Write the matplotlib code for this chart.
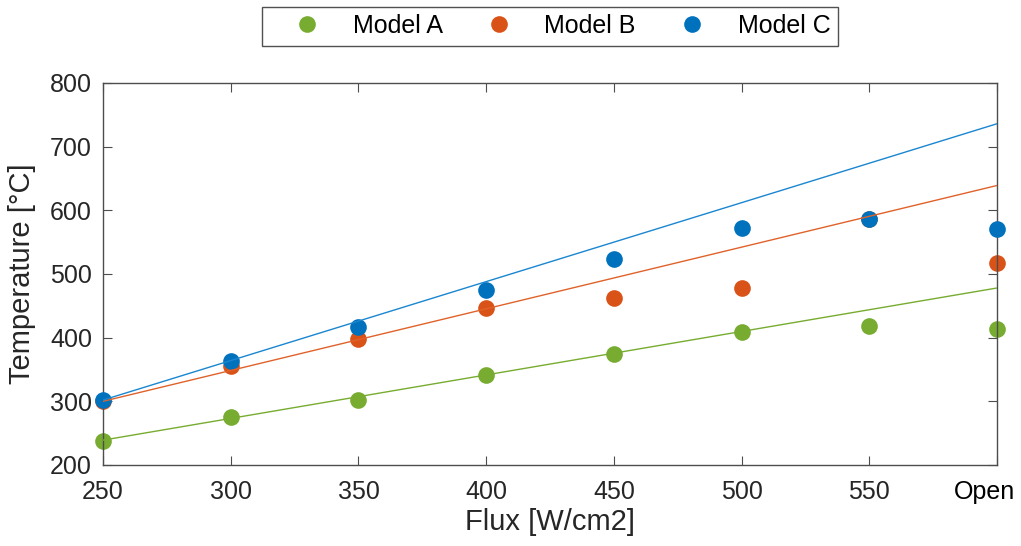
import matplotlib
matplotlib.use("Agg")
import matplotlib.pyplot as plt
from matplotlib.lines import Line2D
import matplotlib.transforms as mtransforms

plt.rcParams['font.family'] = ['Liberation Sans', 'DejaVu Sans']

flux = [250, 300, 350, 400, 450, 500, 550, 600]
tick_labels = ['250', '300', '350', '400', '450', '500', '550', 'Open']

model_a = [237, 276, 302, 342, 375, 409, 418, 414]
model_b = [300, 356, 398, 446, 463, 478, 586, 517]
model_c = [302, 363, 416, 475, 524, 573, 586, 571]

fit_x = [250, 600]
fit_a = [239, 478]
fit_b = [300, 639]
fit_c = [302, 736]

green = '#77AC30'
orange = '#D95319'
blue = '#0072BD'

fig = plt.figure(figsize=(10.21, 5.46), dpi=100)
ax = fig.add_axes([0.1009, 0.1484, 0.8756, 0.6996])

ax.plot(flux, model_a, 'o', color=green, ms=12, mec='none', zorder=2, clip_on=False)
ax.plot(flux, model_b, 'o', color=orange, ms=12, mec='none', zorder=2, clip_on=False)
ax.plot(flux, model_c, 'o', color=blue, ms=12, mec='none', zorder=3, clip_on=False)

ax.plot(fit_x, fit_a, color=green, lw=1.0, zorder=4)
ax.plot(fit_x, fit_b, color='#e0622a', lw=1.0, zorder=4)
ax.plot(fit_x, fit_c, color='#1a86d0', lw=1.0, zorder=4)

ax.set_xlim(250, 600)
ax.set_ylim(200, 800)
ax.set_xticks(flux)
ax.set_xticklabels(tick_labels)
ax.set_yticks([200, 300, 400, 500, 600, 700, 800])

ax.tick_params(direction='in', length=6.5, width=0.8, color='#4d4d4d',
               labelsize=18, labelcolor='#262626', top=True, right=True)
ax.tick_params(axis='x', pad=11)
ax.tick_params(axis='y', pad=8)
open_lbl = ax.get_xticklabels()[-1]
open_lbl.set_color('black')
open_lbl.set_transform(open_lbl.get_transform() +
                       mtransforms.ScaledTranslation(-13 / 100, 0, fig.dpi_scale_trans))
for s in ax.spines.values():
    s.set_color('#4d4d4d')
    s.set_linewidth(1.0)

ax.set_xlabel('Flux [W/cm2]', fontsize=21, color='#262626', labelpad=3)
ax.set_ylabel('Temperature [°C]', fontsize=21, color='#262626', labelpad=10)

handles = [Line2D([], [], marker='o', ls='none', color=c, ms=12, mec='none')
           for c in (green, orange, blue)]
leg = fig.legend(handles, ['Model A', 'Model B', 'Model C'], loc='center',
                 bbox_to_anchor=(0.5387, 0.952), ncol=3, fontsize=18,
                 frameon=True, fancybox=False, edgecolor='#262626',
                 handletextpad=0.32, columnspacing=0.75, borderpad=0.3,
                 handlelength=3.0, borderaxespad=0)
leg.get_frame().set_linewidth(1.0)

fig.savefig('out.png', dpi=100)
